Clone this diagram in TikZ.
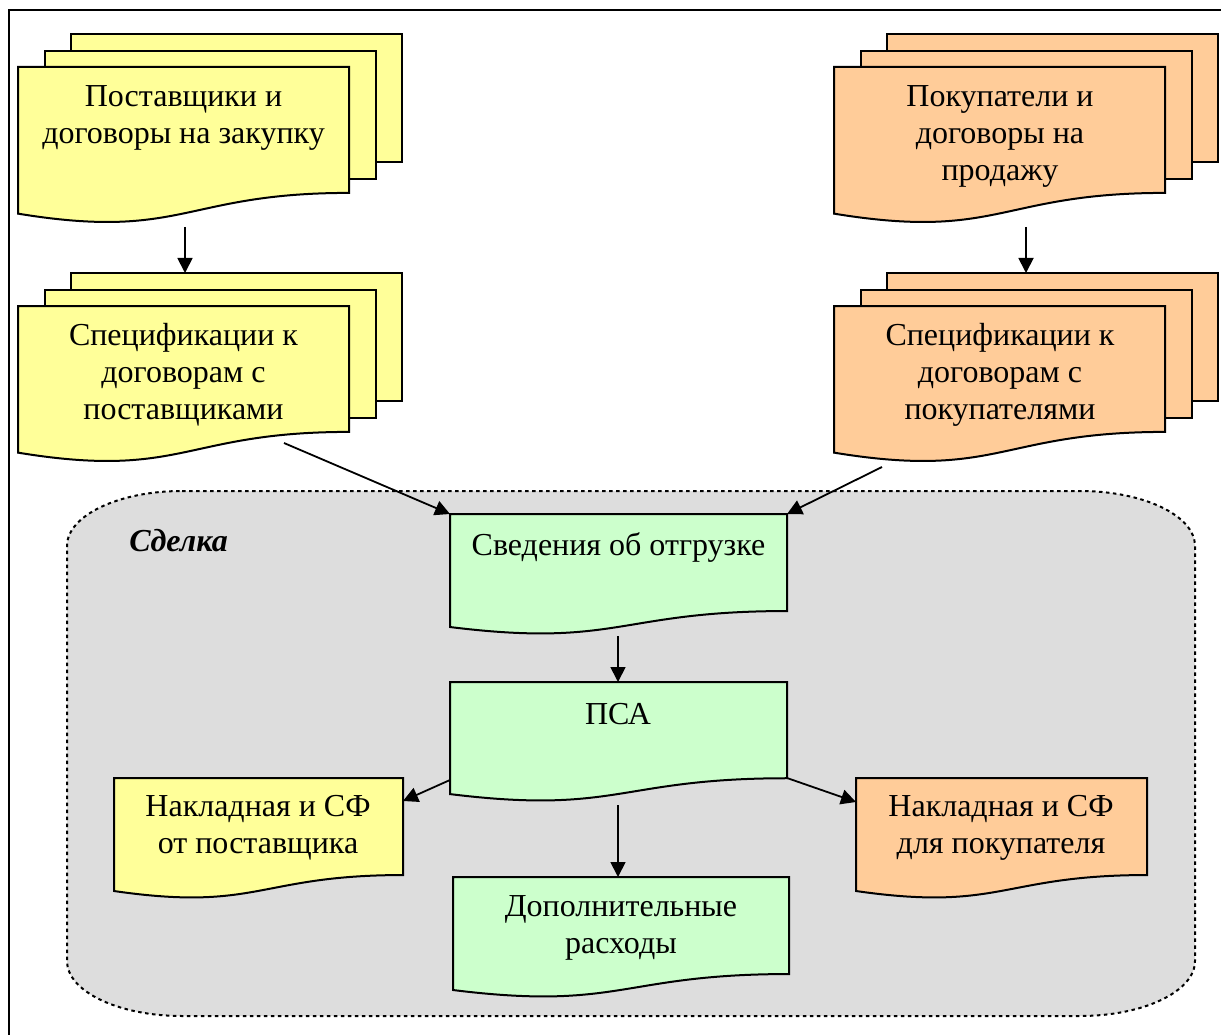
\documentclass[tikz,border=0pt]{standalone}
\usepackage{fontspec}
\setmainfont{Liberation Serif}
\usetikzlibrary{arrows.meta}
\definecolor{docyellow}{HTML}{FFFF99}
\definecolor{docorange}{HTML}{FFCC99}
\definecolor{docgreen}{HTML}{CCFFCC}
\definecolor{regiongray}{HTML}{DDDDDD}
\tikzset{
  shp/.style={draw=black, line width=2pt, line join=miter},
  box/.style={draw=none, inner sep=0pt, outer sep=0pt},
  txt/.style={font=\fontsize{32}{37}\selectfont, align=center, inner sep=0pt},
  arr/.style={-{Triangle[length=15pt,width=15pt]}, line width=1.8pt},
  region/.style={fill=regiongray, draw=black, line width=2pt, dash pattern=on 3.5pt off 3.5pt}
}
% #1 name, #2 x, #3 y (top-left), #4 width, #5 height, #6 fill
\newcommand\mydocpage[6]{%
  \filldraw[shp, fill=#6] (#2,#3) -- (#2+#4,#3) -- (#2+#4,#3+0.802*#5)
    .. controls (#2+0.5*#4,#3+0.802*#5) and (#2+0.5*#4,#3+1.107*#5) .. (#2,#3+0.934*#5) -- cycle;
  \node[box, minimum width=#4pt, minimum height=#5pt, anchor=north west] (#1) at (#2,#3) {};
}
\newcommand\mydocstack[6]{%
  \filldraw[shp, fill=#6] (#2+53,#3-33) rectangle ++(#4,128);
  \filldraw[shp, fill=#6] (#2+27,#3-16) rectangle ++(#4,128);
  \mydocpage{#1}{#2}{#3}{#4}{#5}{#6}
}
\begin{document}
\begin{tikzpicture}[x=1pt, y=-1pt]
\useasboundingbox (0,0) rectangle (1221,1035);
% outer frame (only top and left edges visible)
\draw[line width=2.2pt] (1221,10) -- (9,10) -- (9,1035);
% region "Сделка"
\path[region] (182,491) -- (1080,491)
  .. controls (1143.5,491) and (1195,515.6) .. (1195,546) -- (1195,961)
  .. controls (1195,991.4) and (1143.5,1016) .. (1080,1016) -- (182,1016)
  .. controls (118.5,1016) and (67,991.4) .. (67,961) -- (67,546)
  .. controls (67,515.6) and (118.5,491) .. (182,491) -- cycle;
\node[txt, font=\fontsize{32}{37}\selectfont\bfseries\itshape] (sdelka) at (178.5,541) {Сделка};
% stacks
\mydocstack{supA}{18}{67}{331}{157}{docyellow}
\mydocstack{supB}{18}{306}{331}{157}{docyellow}
\mydocstack{cusA}{834}{67}{331}{157}{docorange}
\mydocstack{cusB}{834}{306}{331}{157}{docorange}
% single documents
\mydocpage{svd}{450}{514}{337}{121}{docgreen}
\mydocpage{psa}{450}{682}{337}{120}{docgreen}
\mydocpage{dop}{453}{877}{336}{121}{docgreen}
\mydocpage{nsup}{114}{778}{289}{121}{docyellow}
\mydocpage{ncus}{856}{778}{291}{121}{docorange}
% texts
\node[txt] (tsupA) at (183.5,118) {Поставщики и\\договоры на закупку};
\node[txt] (tsupB) at (183.5,375) {Спецификации к\\договорам с\\поставщиками};
\node[txt] (tcusA) at (1000,136) {Покупатели и\\договоры на\\продажу};
\node[txt] (tcusB) at (1000,375) {Спецификации к\\договорам с\\покупателями};
\node[txt] (tsvd) at (618.5,547) {Сведения об отгрузке};
\node[txt] (tpsa) at (618,714) {ПСА};
\node[txt] (tnsup) at (258,828) {Накладная и СФ\\от поставщика};
\node[txt] (tncus) at (1001,828) {Накладная и СФ\\для покупателя};
\node[txt] (tdop) at (621,928) {Дополнительные\\расходы};
% connector end points
\coordinate (c1s) at (185,227);
\coordinate (c1e) at (185,273);
\coordinate (c2s) at (1026,227);
\coordinate (c2e) at (1026,273);
\coordinate (c3s) at (284,443);
\coordinate (c4s) at (882,467);
\coordinate (c5s) at (618,636);
\coordinate (c6s) at (450,780);
\coordinate (c6e) at (403,801);
\coordinate (c7s) at (787,778);
\coordinate (c7e) at (856,802);
\coordinate (c8s) at (618,805);
% connectors
\draw[arr] (c1s) -- (c1e);
\draw[arr] (c2s) -- (c2e);
\draw[arr] (c3s) -- (svd.north west);
\draw[arr] (c4s) -- (svd.north east);
\draw[arr] (c5s) -- (psa.north -| c5s);
\draw[arr] (c6s) -- (c6e);
\draw[arr] (c7s) -- (c7e);
\draw[arr] (c8s) -- (dop.north -| c8s);
\end{tikzpicture}
\end{document}
